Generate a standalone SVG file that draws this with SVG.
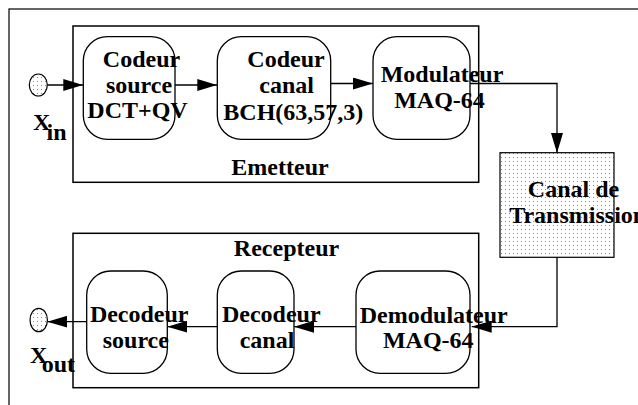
<svg xmlns="http://www.w3.org/2000/svg" width="638" height="405" viewBox="0 0 638 405">
<defs>
<marker id="ah" viewBox="0 0 20 12" refX="20" refY="6" markerWidth="20" markerHeight="12" markerUnits="userSpaceOnUse" orient="auto">
<path d="M0,0 L20,6 L0,12 Z" fill="#000"/>
</marker>
<pattern id="dots" width="4" height="4" patternUnits="userSpaceOnUse">
<rect width="4" height="4" fill="#ffffff"/>
<rect x="1" y="1" width="1" height="1" fill="#8a8a8a"/>
</pattern>
<style>
.t{font-family:"Liberation Serif","Times New Roman",serif;font-weight:bold;font-size:24px;fill:#000}
.n{fill:#fff;stroke:#000;stroke-width:1.3}
.b{fill:none;stroke:#000;stroke-width:1.5}
.c{fill:none;stroke:#000;stroke-width:1.3;marker-end:url(#ah)}
.io{fill:url(#dots);stroke:#000;stroke-width:1.2}
</style>
</defs>
<rect width="638" height="405" fill="#fff"/>
<rect x="9" y="9" width="640" height="410" fill="none" stroke="#000" stroke-width="1.2"/>

<g id="emetteur">
<rect class="b" x="73" y="26" width="405.7" height="156.3"/>
<text class="t" x="280" y="175" text-anchor="middle">Emetteur</text>
</g>
<g id="recepteur">
<rect class="b" x="73" y="233.3" width="405.7" height="154.4"/>
<text class="t" x="286.5" y="256" text-anchor="middle">Recepteur</text>
</g>

<g id="connectors">
<path class="c" d="M47.3,85 H83.3"/>
<path class="c" d="M175,85 H217.3"/>
<path class="c" d="M330.7,83.5 H373"/>
<path class="c" d="M470,83.5 H557 V153"/>
<path class="c" d="M557,257.3 V326.7 H471.7"/>
<path class="c" d="M356,326.7 H294"/>
<path class="c" d="M217.3,326.7 H167.3"/>
<path class="c" d="M86.7,321.7 H47.3"/>
</g>

<g id="xin">
<ellipse class="io" cx="38.3" cy="85" rx="9" ry="11"/>
<text class="t" x="33" y="130">X</text>
<text class="t" x="46.5" y="139.5">in</text>
</g>

<g id="codeur-source">
<rect class="n" x="83.3" y="36.7" width="91.7" height="102.6" rx="24" ry="24"/>
<text class="t" text-anchor="middle"><tspan x="141.5" y="66.7">Codeur</tspan><tspan x="139" y="93.3">source</tspan><tspan x="137.5" y="118.3">DCT+QV</tspan></text>
</g>

<g id="codeur-canal">
<rect class="n" x="217.3" y="36.7" width="113.4" height="102.6" rx="24" ry="24"/>
<text class="t" text-anchor="middle"><tspan x="286" y="66.7">Codeur</tspan><tspan x="286.7" y="93.3">canal</tspan><tspan x="293.3" y="119.5">BCH(63,57,3)</tspan></text>
</g>

<g id="modulateur">
<rect class="n" x="373" y="36.7" width="97" height="102.6" rx="24" ry="24"/>
<text class="t" text-anchor="middle"><tspan x="442" y="81.7">Modulateur</tspan><tspan x="439.5" y="108.3">MAQ-64</tspan></text>
</g>

<g id="canal">
<rect class="io" x="500" y="152.7" width="114" height="104.6"/>
<text class="t" text-anchor="middle"><tspan x="573.5" y="196.7">Canal de</tspan><tspan x="577.7" y="223.3">Transmission</tspan></text>
</g>

<g id="demodulateur">
<rect class="n" x="356" y="271" width="114" height="102.3" rx="24" ry="24"/>
<text class="t" text-anchor="middle"><tspan x="433.7" y="323.3">Demodulateur</tspan><tspan x="428.3" y="348.3">MAQ-64</tspan></text>
</g>

<g id="decodeur-canal">
<rect class="n" x="217.3" y="271" width="76.7" height="102.3" rx="24" ry="24"/>
<text class="t" text-anchor="middle"><tspan x="271.3" y="321.7">Decodeur</tspan><tspan x="267" y="348.3">canal</tspan></text>
</g>

<g id="decodeur-source">
<rect class="n" x="86.7" y="271" width="80.6" height="102.3" rx="24" ry="24"/>
<text class="t" text-anchor="middle"><tspan x="139.2" y="321.7">Decodeur</tspan><tspan x="135.8" y="348.3">source</tspan></text>
</g>

<g id="xout">
<ellipse class="io" cx="38.7" cy="320" rx="8.7" ry="11.7"/>
<text class="t" x="30" y="363.3">X</text>
<text class="t" x="41.7" y="371.7">out</text>
</g>
</svg>
